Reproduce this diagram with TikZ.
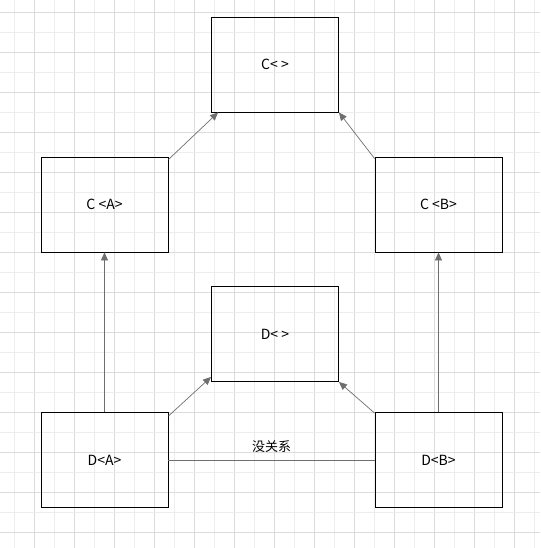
\documentclass[tikz,border=0pt]{standalone}
\usepackage{fontspec}
\setmainfont{Noto Sans CJK SC}
\usepackage{tikz}
\usetikzlibrary{arrows.meta}

\definecolor{gridminor}{HTML}{EDEDED}
\definecolor{gridmajor}{HTML}{DCDCDC}
\definecolor{linkgrey}{HTML}{6E6E6E}

\begin{document}
\begin{tikzpicture}[x=1pt,y=-1pt,
  every node/.style={draw,shape=rectangle,line width=0.9pt,minimum width=127pt,minimum height=95pt,
    inner sep=0pt,font=\fontsize{14}{16}\selectfont},
  link/.style={draw=linkgrey,line width=0.7pt,-{Triangle[length=8pt,width=7pt,fill=linkgrey]}}]

  \useasboundingbox (0,0) rectangle (540,548);

  % Background grid
  \foreach \x in {14,54,...,534} \draw[gridminor,line width=0.8pt] (\x,0) -- (\x,548);
  \foreach \x in {34,74,...,534} \draw[gridmajor,line width=0.8pt] (\x,0) -- (\x,548);
  \foreach \y in {32,72,...,548} \draw[gridminor,line width=0.8pt] (0,\y) -- (540,\y);
  \foreach \y in {12,52,...,548} \draw[gridmajor,line width=0.8pt] (0,\y) -- (540,\y);

  % Specification of nodes (position, etc.)
  \node (c0) at (275,64.5) {C< >};
  \node (ca) at (104.5,204.5) {C <A>};
  \node (cb) at (438.5,204.5) {C <B>};
  \node (d0) at (275,334) {D< >};
  \node (da) at (104.5,460) {D<A>};
  \node (db) at (438.5,460) {D<B>};

  \begin{scope}
    \tikzstyle{every node}=[draw=none,above,font=\fontsize{13}{15}\selectfont]
    \draw[link] ([yshift=-3]ca.north east) to ([xshift=7]c0.south west);
    \draw[link] ([yshift=-2]cb.north west) to (c0.south east);
    \draw[link] (da.north) to (ca.south);
    \draw[link] (db.north) to (cb.south);
    \draw[link] ([yshift=-4]da.north east) to ([yshift=5]d0.south west);
    \draw[link] ([yshift=-1]db.north west) to (d0.south east);
    \draw[draw=linkgrey,line width=0.7pt] (da) to node[pos=0.5,yshift=4pt] {没关系} (db);
  \end{scope}

\end{tikzpicture}
\end{document}
